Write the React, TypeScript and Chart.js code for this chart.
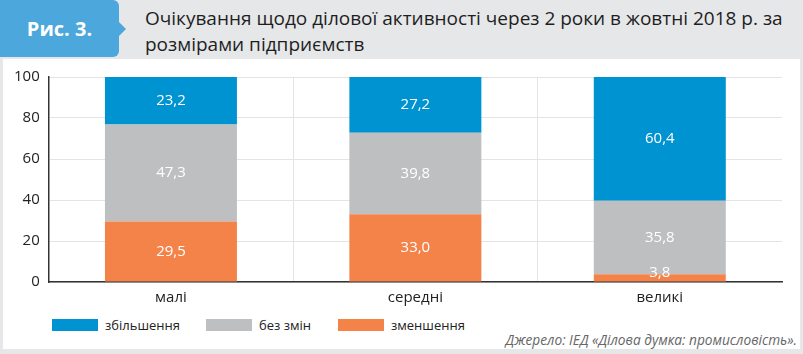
import React, { useEffect, useRef } from "react";
import { Chart, registerables } from "chart.js";

Chart.register(...registerables);

const categories = ["малі", "середні", "великі"];
const seriesNames = ["збільшення", "без змін", "зменшення"];
const increase = [23.2, 27.2, 60.4];
const noChange = [47.3, 39.8, 35.8];
const decrease = [29.5, 33.0, 3.8];
const yTicks = [0, 20, 40, 60, 80, 100];
const colors = ["#0093d1", "#bebfc1", "#f4834a"];

const labelPlugin = {
  id: "segLabels",
  afterDatasetsDraw(chart: any) {
    const ctx = chart.ctx;
    ctx.save();
    ctx.fillStyle = "#ffffff";
    ctx.font = "15px 'Open Sans'";
    ctx.textAlign = "center";
    ctx.textBaseline = "middle";
    chart.data.datasets.forEach((ds: any, di: number) => {
      const meta = chart.getDatasetMeta(di);
      meta.data.forEach((bar: any, i: number) => {
        const v = ds.data[i];
        const yMid = (bar.y + bar.base) / 2;
        const text = v.toFixed(1).replace(".", ",");
        ctx.fillText(text, bar.x, Math.min(yMid, bar.base - 9));
      });
    });
    ctx.restore();
  },
};

export default function App() {
  const ref = useRef<HTMLCanvasElement>(null);
  useEffect(() => {
    const chart = new Chart(ref.current!, {
      type: "bar",
      data: {
        labels: categories,
        datasets: [
          { label: seriesNames[2], data: decrease, backgroundColor: colors[2] },
          { label: seriesNames[1], data: noChange, backgroundColor: colors[1] },
          { label: seriesNames[0], data: increase, backgroundColor: colors[0] },
        ],
      },
      options: {
        animation: false,
        responsive: false,
        maintainAspectRatio: false,
        layout: { padding: { left: 5, right: 21, top: 5, bottom: 0 } },
        datasets: { bar: { categoryPercentage: 1, barPercentage: 0.54 } },
        plugins: { legend: { display: false }, tooltip: { enabled: false } },
        scales: {
          x: {
            stacked: true,
            grid: {
              color: (c: any) => (c.index === undefined || c.index === 0 ? "rgba(0,0,0,0)" : "#e4e4e4"),
              drawTicks: false,
            },
            border: { color: "#333333", width: 1.5 },
            ticks: { color: "#222222", font: { family: "'Open Sans'", size: 15 }, padding: 7 },
          },
          y: {
            stacked: true,
            min: 0,
            max: 100,
            afterBuildTicks: (s: any) => {
              s.ticks = yTicks.map((v) => ({ value: v }));
            },
            grid: { color: "#e4e4e4", drawTicks: false },
            border: { color: "#333333", width: 1.5 },
            ticks: { color: "#222222", font: { family: "'Open Sans'", size: 15 }, padding: 9 },
          },
        },
      },
      plugins: [labelPlugin],
    });
    return () => chart.destroy();
  }, []);

  const legendItems = [0, 1, 2];
  return (
    <div style={{ position: "absolute", left: 0, top: 0, width: 803, height: 354, background: "#e6e7e9", overflow: "hidden", fontFamily: "'Open Sans', sans-serif" }}>
      <div style={{ position: "absolute", left: 0, top: 0, width: 119, height: 57, background: "#4ca7dd", borderRadius: "0 6px 6px 0" }}>
        <div style={{ position: "absolute", right: -7, top: 22, width: 0, height: 0, borderTop: "7px solid transparent", borderBottom: "7px solid transparent", borderLeft: "7px solid #4ca7dd" }} />
        <div style={{ position: "absolute", left: 0, top: 0, width: 119, height: 57, lineHeight: "57px", textAlign: "center", color: "#fff", fontWeight: 700, fontSize: 20 }}>Рис. 3.</div>
      </div>
      <div style={{ position: "absolute", left: 145, top: 5, width: 655, color: "#1e1e1e", fontSize: 19, lineHeight: "26px" }}>
        Очікування щодо ділової активності через 2 роки в жовтні 2018 р. за розмірами підприємств
      </div>
      <div style={{ position: "absolute", left: 3, top: 59, width: 797, height: 290, background: "#ffffff" }} />
      <canvas ref={ref} width={803} height={255} style={{ position: "absolute", left: 0, top: 59 }} />
      {legendItems.map((i) => {
        const lefts = [52, 206, 338];
        return (
          <div key={i} style={{ position: "absolute", left: lefts[i], top: 318, height: 14, display: "flex", alignItems: "center", fontSize: 13, color: "#222" }}>
            <span style={{ display: "inline-block", width: 46, height: 12, background: colors[i], marginRight: 7 }} />
            <span>{seriesNames[i]}</span>
          </div>
        );
      })}
      <div style={{ position: "absolute", right: 6, top: 330, fontSize: 13.7, fontStyle: "italic", color: "#666" }}>
        Джерело: ІЕД «Ділова думка: промисловість».
      </div>
    </div>
  );
}
